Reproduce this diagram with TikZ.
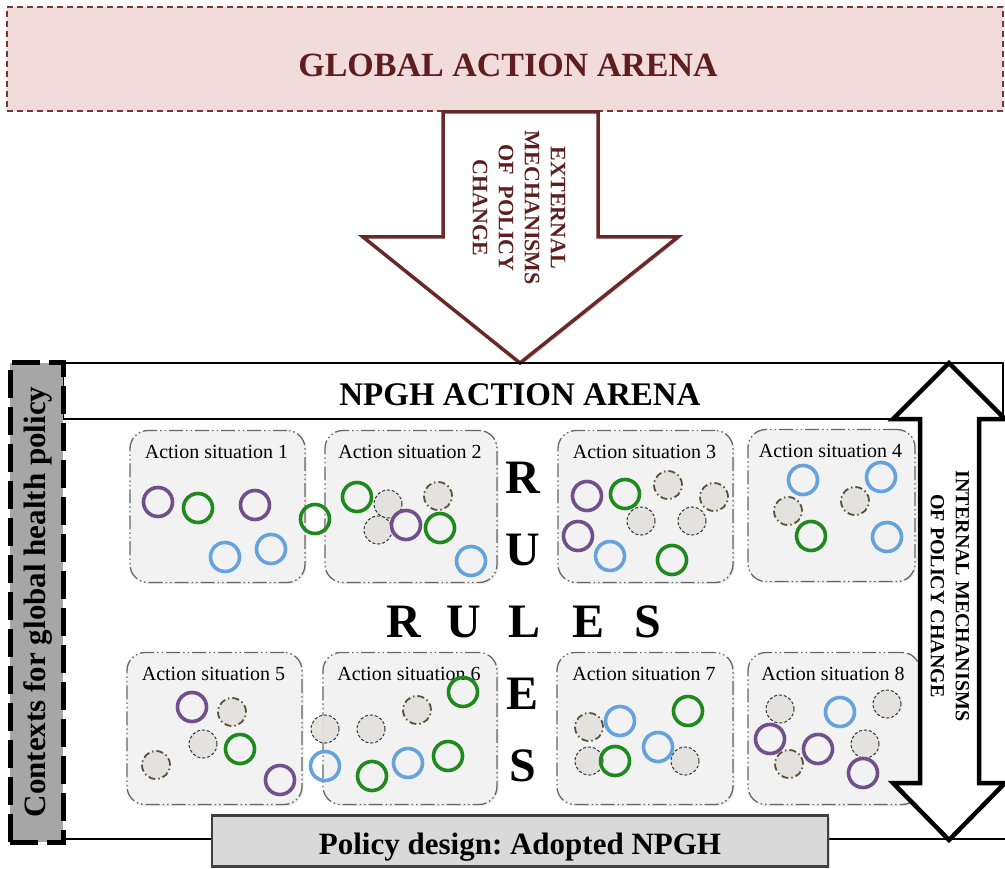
\documentclass[tikz,border=0pt]{standalone}
\usepackage{fontspec}
\setmainfont{Liberation Serif}
\usetikzlibrary{shadows,calc}

\definecolor{arenapink}{HTML}{F2DCDB}
\definecolor{arenared}{HTML}{7A3535}
\definecolor{arrowred}{HTML}{6B2828}
\definecolor{textred}{HTML}{5E1E1E}
\definecolor{ctxgray}{HTML}{A6A6A6}
\definecolor{boxgray}{HTML}{F2F2F2}
\definecolor{designgray}{HTML}{D9D9D9}
\definecolor{actpurple}{HTML}{70508C}
\definecolor{actgreen}{HTML}{1E8A1E}
\definecolor{actblue}{HTML}{66A3DD}
\definecolor{inactfill}{HTML}{E2E1DC}
\definecolor{inactolive}{HTML}{5A5238}

\frenchspacing
\begin{document}
\begin{tikzpicture}[x=1pt,y=-1pt,
  situation/.style={draw=gray!80!black, line width=1.3pt, fill=boxgray,
    rounded corners=18pt,
    dash pattern=on 14pt off 3pt on 1.5pt off 3pt on 1.5pt off 3pt,
    minimum width=174pt, minimum height=152pt, inner sep=0pt,
    drop shadow={opacity=0.18, shadow xshift=1.5pt, shadow yshift=-1.5pt}},
  sittitle/.style={font=\fontsize{20}{24}\selectfont, anchor=base, inner sep=0pt},
  actor/.style={circle, minimum size=29pt, inner sep=0pt, line width=3.6pt},
  actorP/.style={actor, draw=actpurple},
  actorG/.style={actor, draw=actgreen},
  actorB/.style={actor, draw=actblue},
  idle/.style={circle, minimum size=28pt, inner sep=0pt, fill=inactfill, fill opacity=0.9},
  idleS/.style={idle, draw=black!80, line width=1pt, dash pattern=on 3pt off 2pt},
  idleL/.style={idle, draw=inactolive, line width=1.8pt, dash pattern=on 7pt off 3pt on 1.5pt off 3pt},
  rulesletter/.style={font=\bfseries\fontsize{48}{52}\selectfont, anchor=base, inner sep=0pt},
  boldtitle/.style={font=\bfseries\fontsize{33}{38}\selectfont, anchor=base, inner sep=0pt}
]
\useasboundingbox (0,0) rectangle (1005,869);

% global arena
\node[draw=arenared, fill=arenapink, line width=1.8pt, dash pattern=on 6pt off 4pt,
      minimum width=996pt, minimum height=104pt, inner sep=0pt] (global) at (505,59) {};
\node[boldtitle, text=textred, font=\bfseries\fontsize{34}{40}\selectfont] (globaltxt) at (508,77) {GLOBAL ACTION ARENA};

% external mechanisms arrow
\draw[line width=3.5pt, draw=arrowred, fill=white, line join=miter,
      drop shadow={opacity=0.3, shadow xshift=2pt, shadow yshift=-2pt}]
  (443,112) -- (598,112) -- (598,237) -- (678,237) -- (520,363) -- (363,237) -- (443,237) -- cycle;
\node[rotate=-90, text=textred, font=\bfseries\fontsize{22}{26}\selectfont, align=center, inner sep=0pt]
  (extmech) at (519,208) {EXTERNAL\\MECHANISMS\\OF\ \ POLICY\\CHANGE};

% NPGH arena frame
\node[draw, line width=2.5pt, inner sep=0pt, minimum width=940pt, minimum height=56pt] (header) at (533,391) {};
\coordinate (frameend) at (1005,839);
\node[fill=ctxgray, draw=black, line width=5pt, dash pattern=on 28pt off 9pt,
      minimum width=53pt, minimum height=479pt, inner sep=0pt] (ctx) at (36.5,602.5) {};
\draw[line width=2.5pt] (ctx.east |- frameend) -- (frameend);
\node[boldtitle, anchor=base] (headertxt) at (520,405) {NPGH ACTION ARENA};
\node[rotate=90, font=\bfseries\fontsize{31}{36}\selectfont, inner sep=0pt] (ctxtxt) at (38,602) {Contexts for global health policy};

% action situations
\foreach \cx/\cy/\w/\n in {217.5/506.5/175/1, 411/506.5/172/2, 645.5/506.5/175/3, 831.5/505.5/167/4,
                         214.5/728.5/175/5, 410/728.5/174/6, 645/728.5/176/7, 834/728.5/172/8} {
  \node[situation, minimum width=\w pt] (as\n) at (\cx,\cy) {};
  \node[sittitle] (ast\n) at ($(as\n.north)+(-1,29)$) {Action situation \n};
}

% inactive actors
\foreach \x/\y [count=\i] in {388/504, 378/530, 641/521, 692/521, 203/744, 325/729, 371/729,
                              589/761, 685/761, 780/709, 887/704, 865/744}
  \node[idleS] (is\i) at (\x,\y) {};
\foreach \x/\y [count=\i] in {438/496, 668/485, 714/497, 788/511, 855/501, 232/712, 156/765,
                              417/710, 589/727, 789/764}
  \node[idleL] (il\i) at (\x,\y) {};

% active actors
\foreach \x/\y [count=\i] in {158/502, 255/505, 406/525, 587/496, 578/536, 192/707, 280/780,
                              770/739, 818/749, 863/773}
  \node[actorP] (ap\i) at (\x,\y) {};
\foreach \x/\y [count=\i] in {198/508, 315/519, 357/497, 440/528, 625/494, 672/560, 811/536,
                              240/749, 463/692, 372/776, 448/756, 688/711, 615/761}
  \node[actorG] (ag\i) at (\x,\y) {};
\foreach \x/\y [count=\i] in {225/557, 271/549, 471/561, 610/556, 803/480, 881/477, 887/537,
                              325/766, 408/763, 620/721, 658/747, 840/712}
  \node[actorB] (ab\i) at (\x,\y) {};

% RULES cross
\node[rulesletter] (rh1) at (404,637) {R};
\node[rulesletter] (rh2) at (464,637) {U};
\node[rulesletter] (rh3) at (525,637) {L};
\node[rulesletter] (rh4) at (589,637) {E};
\node[rulesletter] (rh5) at (648,637) {S};
\node[rulesletter] (rv1) at (523,493) {R};
\node[rulesletter] (rv2) at (523,565) {U};
\node[rulesletter] (rv4) at (523,709) {E};
\node[rulesletter] (rv5) at (523,781) {S};

% internal mechanisms double arrow
\draw[line width=4.5pt, fill=white, line join=miter]
  (949,363) -- (1005,419) -- (979,419) -- (979,783) -- (1005,783) -- (949,840)
  -- (893,783) -- (920,783) -- (920,419) -- (893,419) -- cycle;
\node[rotate=-90, font=\bfseries\fontsize{20}{25}\selectfont, align=center, inner sep=0pt]
  (intmech) at (950,596) {INTERNAL MECHANISMS\\OF POLICY CHANGE};

% policy design
\node[fill=designgray, draw=black!75, line width=2.2pt, minimum width=616pt, minimum height=51pt,
      inner sep=0pt, drop shadow={opacity=0.3, shadow xshift=1.5pt, shadow yshift=-1.5pt}]
  (design) at (520,841) {};
\node[boldtitle, font=\bfseries\fontsize{31}{36}\selectfont] (designtxt) at (520,854) {Policy design: Adopted NPGH};
\end{tikzpicture}
\end{document}
